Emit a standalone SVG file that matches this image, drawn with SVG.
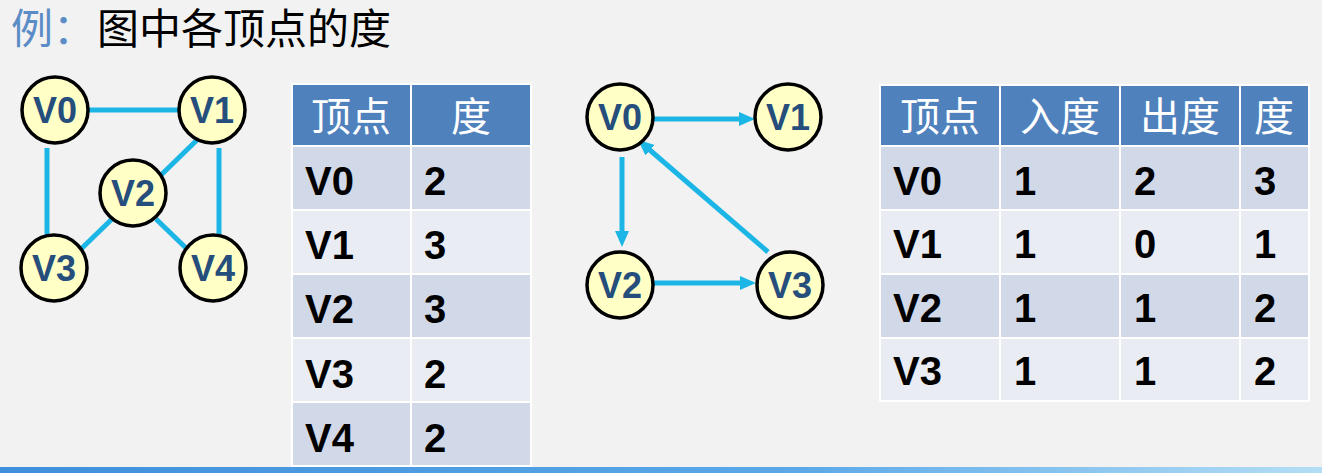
<svg xmlns="http://www.w3.org/2000/svg" width="1322" height="473" viewBox="0 0 1322 473">
<defs>
<style>
.bg{fill:#f2f2f2}
.edge{stroke:#1cb6e6;stroke-width:5;fill:none}
.arrow{stroke:#1cb6e6;stroke-width:5;fill:none;marker-end:url(#ah)}
.node circle{fill:#ffffc6;stroke:#000;stroke-width:3.5}
.node text{font-family:"Liberation Sans","Noto Sans CJK SC",sans-serif;font-weight:bold;font-size:36px;fill:#264e7c;text-anchor:middle}
.hd{fill:#4f81bd;stroke:#fff;stroke-width:2}
.r1{fill:#d1d8e8;stroke:#fff;stroke-width:2}
.r2{fill:#e9ecf3;stroke:#fff;stroke-width:2}
.ht{font-family:"Noto Sans CJK SC",sans-serif;font-size:40px;fill:#fff;text-anchor:middle}
.bt{font-family:"Liberation Sans","Noto Sans CJK SC",sans-serif;font-weight:bold;font-size:40px;fill:#000}
.title{font-family:"Noto Sans CJK SC",sans-serif;font-size:42px}
</style>
<marker id="ah" viewBox="0 0 16 14" refX="8" refY="7" markerWidth="16" markerHeight="14" markerUnits="userSpaceOnUse" orient="auto">
<path d="M0,0 L16,7 L0,14 Z" fill="#1cb6e6"/>
</marker>
<linearGradient id="bar" x1="0" y1="0" x2="1" y2="0">
<stop offset="0" stop-color="#3f8fdc"/>
<stop offset="0.6" stop-color="#5aa8e8"/>
<stop offset="1" stop-color="#b4def6"/>
</linearGradient>
</defs>
<rect class="bg" x="0" y="0" width="1322" height="473"/>
<rect x="0" y="467" width="1322" height="6" fill="url(#bar)"/>

<g id="title">
<text class="title" x="11" y="44" fill="#5b8cc6">例：</text>
<text class="title" x="97" y="44" fill="#000">图中各顶点的度</text>
</g>

<g id="connectors">
<line class="edge" x1="85" y1="110" x2="182" y2="110"/>
<line class="edge" x1="47" y1="148" x2="47" y2="238"/>
<line class="edge" x1="219" y1="148" x2="219" y2="238"/>
<line class="edge" x1="198" y1="139" x2="158" y2="178"/>
<line class="edge" x1="112" y1="219" x2="80" y2="250"/>
<line class="edge" x1="156" y1="219" x2="187" y2="249"/>
<line class="arrow" x1="654" y1="119" x2="747" y2="119"/>
<line class="arrow" x1="622" y1="157" x2="622" y2="239"/>
<line class="arrow" x1="654" y1="283" x2="748" y2="283"/>
<line class="arrow" x1="768" y1="252" x2="644" y2="145"/>
</g>

<g id="g1-V0" class="node"><circle cx="55" cy="110" r="33"/><text x="55" y="123">V0</text></g>
<g id="g1-V1" class="node"><circle cx="212" cy="110" r="33"/><text x="212" y="123">V1</text></g>
<g id="g1-V2" class="node"><circle cx="133" cy="193" r="33"/><text x="133" y="206">V2</text></g>
<g id="g1-V3" class="node"><circle cx="54" cy="268" r="33"/><text x="54" y="281">V3</text></g>
<g id="g1-V4" class="node"><circle cx="213" cy="268" r="33"/><text x="213" y="281">V4</text></g>

<g id="g2-V0" class="node"><circle cx="620" cy="117" r="33"/><text x="620" y="130">V0</text></g>
<g id="g2-V1" class="node"><circle cx="788" cy="117" r="33"/><text x="788" y="130">V1</text></g>
<g id="g2-V2" class="node"><circle cx="620" cy="285" r="33"/><text x="620" y="298">V2</text></g>
<g id="g2-V3" class="node"><circle cx="790" cy="285" r="33"/><text x="790" y="298">V3</text></g>

<g id="table1">
<rect class="hd" x="292" y="84" width="119" height="62"/>
<rect class="hd" x="411" y="84" width="120" height="62"/>
<rect class="r1" x="292" y="146" width="119" height="64"/>
<rect class="r1" x="411" y="146" width="120" height="64"/>
<rect class="r2" x="292" y="210" width="119" height="64"/>
<rect class="r2" x="411" y="210" width="120" height="64"/>
<rect class="r1" x="292" y="274" width="119" height="64"/>
<rect class="r1" x="411" y="274" width="120" height="64"/>
<rect class="r2" x="292" y="338" width="119" height="64"/>
<rect class="r2" x="411" y="338" width="120" height="64"/>
<rect class="r1" x="292" y="402" width="119" height="64"/>
<rect class="r1" x="411" y="402" width="120" height="64"/>
<text class="ht" x="351" y="131">顶点</text>
<text class="ht" x="471" y="131">度</text>
<text class="bt" x="305" y="195">V0</text><text class="bt" x="424" y="195">2</text>
<text class="bt" x="305" y="259">V1</text><text class="bt" x="424" y="259">3</text>
<text class="bt" x="305" y="323">V2</text><text class="bt" x="424" y="323">3</text>
<text class="bt" x="305" y="388">V3</text><text class="bt" x="424" y="388">2</text>
<text class="bt" x="305" y="452">V4</text><text class="bt" x="424" y="452">2</text>
</g>

<g id="table2">
<rect class="hd" x="880" y="85" width="120" height="61"/>
<rect class="hd" x="1000" y="85" width="120" height="61"/>
<rect class="hd" x="1120" y="85" width="120" height="61"/>
<rect class="hd" x="1240" y="85" width="69" height="61"/>
<rect class="r1" x="880" y="146" width="120" height="64"/>
<rect class="r1" x="1000" y="146" width="120" height="64"/>
<rect class="r1" x="1120" y="146" width="120" height="64"/>
<rect class="r1" x="1240" y="146" width="69" height="64"/>
<rect class="r2" x="880" y="210" width="120" height="64"/>
<rect class="r2" x="1000" y="210" width="120" height="64"/>
<rect class="r2" x="1120" y="210" width="120" height="64"/>
<rect class="r2" x="1240" y="210" width="69" height="64"/>
<rect class="r1" x="880" y="274" width="120" height="64"/>
<rect class="r1" x="1000" y="274" width="120" height="64"/>
<rect class="r1" x="1120" y="274" width="120" height="64"/>
<rect class="r1" x="1240" y="274" width="69" height="64"/>
<rect class="r2" x="880" y="338" width="120" height="63"/>
<rect class="r2" x="1000" y="338" width="120" height="63"/>
<rect class="r2" x="1120" y="338" width="120" height="63"/>
<rect class="r2" x="1240" y="338" width="69" height="63"/>
<text class="ht" x="940" y="131">顶点</text>
<text class="ht" x="1060" y="131">入度</text>
<text class="ht" x="1180" y="131">出度</text>
<text class="ht" x="1274" y="131">度</text>
<text class="bt" x="893" y="195">V0</text><text class="bt" x="1014" y="195">1</text><text class="bt" x="1134" y="195">2</text><text class="bt" x="1254" y="195">3</text>
<text class="bt" x="893" y="258">V1</text><text class="bt" x="1014" y="258">1</text><text class="bt" x="1134" y="258">0</text><text class="bt" x="1254" y="258">1</text>
<text class="bt" x="893" y="322">V2</text><text class="bt" x="1014" y="322">1</text><text class="bt" x="1134" y="322">1</text><text class="bt" x="1254" y="322">2</text>
<text class="bt" x="893" y="385">V3</text><text class="bt" x="1014" y="385">1</text><text class="bt" x="1134" y="385">1</text><text class="bt" x="1254" y="385">2</text>
</g>
</svg>
